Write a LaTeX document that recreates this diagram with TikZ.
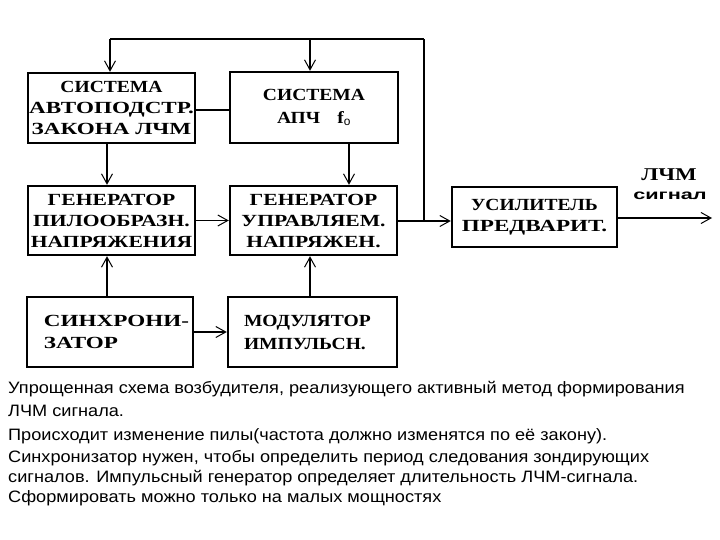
\documentclass[tikz,border=0pt]{standalone}
\usepackage{fontspec}
\setmainfont{Liberation Sans}
\newfontfamily\fa[FakeStretch=1.15]{Liberation Serif}
\newfontfamily\fb[FakeStretch=1.27]{Liberation Serif}
\newfontfamily\fc[FakeStretch=1.36]{Liberation Serif}
\newfontfamily\sigfont[FakeStretch=1.55]{Liberation Sans}
\newfontfamily\capfont[FakeStretch=1.1]{Liberation Sans}
\usetikzlibrary{arrows.meta}
\tikzset{
  blk/.style={draw, line width=2.4pt, minimum width=#1, inner sep=0pt, font=\bfseries\fontsize{17}{21}\selectfont, align=center},
  conn/.style={line width=1.3pt},
  arr/.style={line width=1.3pt, -{Straight Barb[length=10pt,width=11pt,line width=1pt]}},
  captxt/.style={anchor=base west, inner sep=0pt, font=\capfont\fontsize{16.5}{22}\selectfont}
}
\begin{document}
\begin{tikzpicture}[x=1pt,y=-1pt]
\useasboundingbox[fill=white] (0,0) rectangle (720,540);
% boxes
\node[blk=167pt, minimum height=70pt] (b1) at (111.5,108) {{\fa СИСТЕМА}\\{\fc АВТОПОДСТР.}\\{\fc ЗАКОНА ЛЧМ}};
\node[blk=168pt, minimum height=71pt, font=\fa\bfseries\fontsize{17}{23}\selectfont] (b2) at (314,107.5) {СИСТЕМА\\АПЧ\quad f$_{\mathrm{o}}$};
\node[blk=167pt, minimum height=69pt, font=\fb\bfseries\fontsize{17}{21}\selectfont] (b3) at (111.5,220.5) {ГЕНЕРАТОР\\ПИЛООБРАЗН.\\НАПРЯЖЕНИЯ};
\node[blk=167pt, minimum height=69pt, font=\fb\bfseries\fontsize{17}{21}\selectfont] (b4) at (313.5,220.5) {ГЕНЕРАТОР\\УПРАВЛЯЕМ.\\НАПРЯЖЕН.};
\node[blk=165pt, minimum height=60pt] (b5) at (534.5,217) {{\fa УСИЛИТЕЛЬ}\\{\fc ПРЕДВАРИТ.}};
\node[blk=166pt, minimum height=70pt, align=left, text width=166pt, font=\fc\bfseries\fontsize{17}{22}\selectfont] (b6) at (110,332) {\hspace*{17pt}СИНХРОНИ-\\\hspace*{17pt}ЗАТОР};
\node[blk=169pt, minimum height=70pt, align=left, text width=169pt, font=\fa\bfseries\fontsize{17}{23}\selectfont] (b7) at (312.5,332) {\hspace*{16pt}МОДУЛЯТОР\\\hspace*{16pt}ИМПУЛЬСН.};
% helper coordinates
\coordinate (xa) at (107,0);
\coordinate (xb) at (349,0);
\coordinate (xc) at (110,0);
\coordinate (xd) at (310,0);
\coordinate (tl) at (110,39);
\coordinate (tr) at (424,39);
\coordinate (tm) at (310,39);
\coordinate (jr) at (424,221);
\coordinate (out) at (712,218);
% connectors
\draw[conn] (b1.east |- 0,110) -- (b2.west |- 0,110);
\draw[arr] (b1.south -| xa) -- (b3.north -| xa);
\draw[arr] (b2.south -| xb) -- (b4.north -| xb);
\draw[arr] (b3.east) -- (b4.west);
\draw[arr] (b6.east) -- (b7.west);
\draw[arr] (b6.north -| xa) -- (b3.south -| xa);
\draw[arr] (b7.north -| xd) -- (b4.south -| xd);
\draw[arr] (b4.east |- jr) -- (b5.west |- jr);
\draw[conn] (jr) -- (tr);
\draw[line width=2pt] (tr) -- (tl);
\draw[arr] (tl) -- (b1.north -| xc);
\draw[arr] (tm) -- (b2.north -| xd);
\draw[arr] (b5.east |- out) -- (out);
\node[font=\fb\bfseries\fontsize{18}{21}\selectfont, inner sep=0pt] (l1) at (669,175) {ЛЧМ};
\node[font=\sigfont\bfseries\fontsize{14}{15}\selectfont, inner sep=0pt] (l2) at (670,196) {сигнал};
% caption
\node[captxt] (c1) at (8,393) {Упрощенная схема возбудителя, реализующего активный метод формирования};
\node[captxt] (c2) at (8,416) {ЛЧМ сигнала.};
\node[captxt] (c3) at (8,440) {Происходит изменение пилы(частота должно изменятся по её закону).};
\node[captxt] (c4) at (8,462) {Синхронизатор нужен, чтобы определить период следования зондирующих};
\node[captxt] (c5) at (8,482) {сигналов. Импульсный генератор определяет длительность ЛЧМ-сигнала.};
\node[captxt] (c6) at (8,502) {Сформировать можно только на малых мощностях};
\end{tikzpicture}
\end{document}
